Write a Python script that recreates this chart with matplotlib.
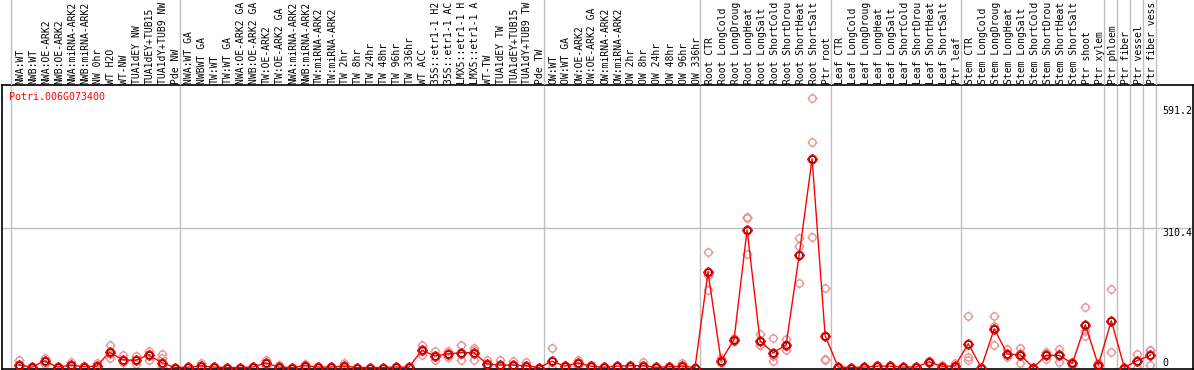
import matplotlib
matplotlib.use("Agg")
import matplotlib.pyplot as plt
import matplotlib.transforms as mtransforms
from matplotlib.path import Path

# sample labels, in plotting order (the chart shows only the first 14 chars)
sample_labels = [
    # NW group
    "NWA:WT", "NWB:WT", "NWA:OE-ARK2", "NWB:OE-ARK2", "NWA:miRNA-ARK2",
    "NWB:miRNA-ARK2", "NW 0hr", "WT H2O", "WT-NW", "TUA1dEY NW",
    "TUA1dEY+TUB15 NW", "TUA1dY+TUB9 NW", "Pde NW",
    # TW group
    "NWA:WT GA", "NWBWT GA", "TW:WT", "TW:WT GA", "NWA:OE-ARK2 GA",
    "NWB:OE-ARK2 GA", "TW:OE-ARK2", "TW:OE-ARK2 GA", "NWA:miRNA-ARK2",
    "NWB:miRNA-ARK2", "TW:miRNA-ARK2", "TW:miRNA-ARK2", "TW 2hr", "TW 8hr",
    "TW 24hr", "TW 48hr", "TW 96hr", "TW 336hr", "WT ACC", "35S::etr1-1 H2O",
    "35S::etr1-1 ACC", "LMX5::etr1-1 H2O", "LMX5::etr1-1 ACC", "WT-TW",
    "TUA1dEY TW", "TUA1dEY+TUB15 TW", "TUA1dY+TUB9 TW", "Pde TW",
    # OW group
    "OW:WT", "OW:WT GA", "OW:OE-ARK2", "OW:OE-ARK2 GA", "OW:miRNA-ARK2",
    "OW:miRNA-ARK2", "OW 2hr", "OW 8hr", "OW 24hr", "OW 48hr", "OW 96hr",
    "OW 336hr",
    # root
    "Root CTR", "Root LongCold", "Root LongDrought", "Root LongHeat",
    "Root LongSalt", "Root ShortCold", "Root ShortDrought", "Root ShortHeat",
    "Root ShortSalt", "Ptr root",
    # leaf
    "Leaf CTR", "Leaf LongCold", "Leaf LongDrought", "Leaf LongHeat",
    "Leaf LongSalt", "Leaf ShortCold", "Leaf ShortDrought", "Leaf ShortHeat",
    "Leaf ShortSalt", "Ptr leaf",
    # stem + tissues
    "Stem CTR", "Stem LongCold", "Stem LongDrought", "Stem LongHeat",
    "Stem LongSalt", "Stem ShortCold", "Stem ShortDrought", "Stem ShortHeat",
    "Stem ShortSalt", "Ptr shoot", "Ptr xylem", "Ptr phloem", "Ptr fiber",
    "Ptr vessel", "Ptr fiber vessel",
]
LABEL_MAX = 14

# number of samples in each separated block
group_sizes = [13, 28, 12, 10, 10, 11, 1, 1, 1, 1]

mean_values = [
    6, 0.5, 15, 1, 5, 2, 3, 34, 17, 16, 28, 11, 0,
    0.5, 3.5, 1, 0, 0, 1, 10, 1, 0, 4, 1, 1, 3, 0, 0, 0, 1, 0.5,
    38, 26, 30, 33, 33, 8, 5.5, 5.5, 4, 0,
    14, 3, 10, 3, 0.5, 3, 4, 4, 0.5, 1.5, 3, 0,
    212, 15, 62, 306, 59, 33, 50, 249, 464, 71,
    1, 0, 1, 3, 3, 1, 1, 12.5, 2, 4,
    53, 0, 86, 30, 28, 0, 27, 27, 9, 95, 5, 104, 0, 15.5, 27,
]

replicate_values = [
    [17, 3, 0], [1, 0, 0], [21, 15, 8], [2, 1, 0], [13, 2, 1], [3, 2, 1],
    [9, 0, 0], [51, 31, 21], [27, 12, 12], [25, 16, 7], [36, 31, 17],
    [30, 20, 2], [0, 0, 0],
    [1, 0, 0], [11, 0, 0], [2, 1, 0], [0, 0, 0], [0, 0, 0], [2, 1, 0],
    [17, 10, 3], [6, 0, 0], [0, 0, 0], [8, 3, 1], [2, 1, 0], [2, 1, 0],
    [10, 0, 0], [0, 0, 0], [0, 0, 0], [0, 0, 0], [2, 1, 0], [1, 0, 0],
    [50, 36, 28], [36, 25, 17], [36, 31, 23], [51, 31, 17], [44, 38, 17],
    [17, 6, 1], [16, 1, 0], [14, 2, 1], [12, 0, 0], [0, 0, 0],
    [44, 0, 0], [5, 3, 1], [17, 10, 3], [5, 3, 1], [1, 0, 0], [4, 3, 1],
    [6, 4, 2], [12, 0, 0], [1, 0, 0], [3, 1, 0], [10, 0, 0], [0, 0, 0],
    [257, 205, 172], [21, 14, 10], [66, 62, 58], [335, 332, 253],
    [75, 51, 51], [66, 25, 14], [64, 48, 38], [287, 271, 187],
    [599, 501, 291], [177, 18, 17],
    [2, 1, 0], [0, 0, 0], [2, 1, 0], [5, 3, 1], [5, 3, 1], [2, 1, 0],
    [2, 1, 0], [14, 12, 11], [6, 0, 0], [10, 2, 0],
    [115, 24, 16], [0, 0, 0], [115, 93, 49], [40, 28, 24], [43, 32, 9],
    [0, 0, 0], [34, 29, 18], [40, 30, 12], [12, 9, 6], [135, 81, 71],
    [10, 3, 1], [175, 35], [0, 0, 0], [31, 0], [38, 38, 5],
]

gene_id = "Potri.006G073400"
ytick_values = [591.2, 310.4, 0]

W, H = 1194, 370
MONO = "DejaVu Sans Mono"
GRID = "#c0c0c0"

# circle with four little ticks, like the original marker
circ = Path.unit_circle()
ticks = Path([(0, 1), (0, 1.4), (0, -1), (0, -1.4), (1, 0), (1.4, 0), (-1, 0), (-1.4, 0)],
             [Path.MOVETO, Path.LINETO] * 4)
tick_circle = Path.make_compound_path(circ, ticks)

fig = plt.figure(figsize=(W / 100, H / 100), dpi=100)

x_left, x_right = 1.5, 1192.7
plot_top, plot_bottom = 85, 369
ax = fig.add_axes([x_left / W, (H - plot_bottom) / H, (x_right - x_left) / W,
                   (plot_bottom - plot_top) / H])
lab = fig.add_axes([x_left / W, (H - plot_top) / H, (x_right - x_left) / W, plot_top / H],
                   sharex=ax)

xs = list(range(len(sample_labels)))
px_per_col = 13.01
x0_px = 18.5
ax.set_xlim((x_left - x0_px) / px_per_col, (x_right - x0_px) / px_per_col)
val_per_px = 2.222
zero_px = 367.5
ax.set_ylim(-(plot_bottom - zero_px) * val_per_px, (zero_px - plot_top) * val_per_px)

for sp in ax.spines.values():
    sp.set_color("black")
    sp.set_linewidth(1.2)
ax.tick_params(left=False, bottom=False, labelleft=False, labelbottom=False)
lab.axis("off")

# group separators
bounds = [0]
for g in group_sizes:
    bounds.append(bounds[-1] + g)
for b in bounds:
    for a in (ax, lab):
        a.axvline(b - 0.585, color=GRID, lw=1.0, zorder=0)

# horizontal grid line at middle tick
ax.axhline(ytick_values[1], color=GRID, lw=1.0, zorder=0)

# replicates
rx, ry = [], []
for i, reps in enumerate(replicate_values):
    for v in reps:
        rx.append(i)
        ry.append(v)
ax.plot(rx, ry, ls="none", marker=tick_circle, ms=7.2, mfc="none",
        mec="#e89696", mew=1.0, zorder=2, clip_on=False)

# mean line
ax.plot(xs, mean_values, color="red", lw=1.0, zorder=3)
ax.plot(xs, mean_values, ls="none", marker=tick_circle, ms=7.8, mfc="none",
        mec="red", mew=1.3, zorder=4)
ax.plot(xs, mean_values, ls="none", marker="o", ms=4.4, mfc="none",
        mec="#400000", mew=0.5, zorder=5)

# y value labels on the right
ytrans = mtransforms.blended_transform_factory(fig.transFigure, ax.transData)
for v in ytick_values:
    txt = f"{v:g}" if v == 0 else f"{v:.1f}"
    if v == 0:
        tr, va = ytrans, "bottom"
    elif v == max(ytick_values):
        tr, va = ytrans + mtransforms.ScaledTranslation(0, -5 / 100, fig.dpi_scale_trans), "top"
    else:
        tr, va = ytrans, "top"
    ax.text(1162 / W, v, txt, transform=tr, ha="left", va=va,
            fontsize=7.2, family=MONO, color="black")

# gene name
fig.text(9 / W, (H - 97) / H, gene_id, ha="left", va="center",
         fontsize=7.2, family=MONO, color="red")

# rotated sample labels, nudged a little right to sit on their column
ltrans = mtransforms.blended_transform_factory(lab.transData, lab.transAxes)
ltrans = ltrans + mtransforms.ScaledTranslation(1.5 / 100, 0, fig.dpi_scale_trans)
for i, name in enumerate(sample_labels):
    lab.text(i, 1.5 / plot_top, name[:LABEL_MAX].rstrip(), transform=ltrans, rotation=90,
             ha="center", va="bottom", fontsize=7.0, family=MONO, color="black")

fig.savefig("out.png", dpi=100)
